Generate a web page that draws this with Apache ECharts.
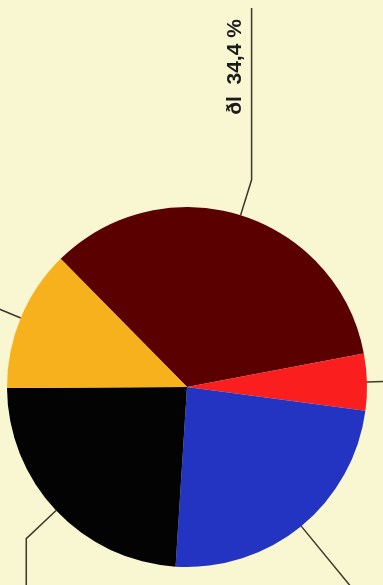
<!DOCTYPE html>
<html>
<head>
<meta charset="utf-8">
<script src="https://cdn.jsdelivr.net/npm/echarts@6/dist/echarts.min.js"></script>
<style>
  html, body { margin: 0; padding: 0; background: #f9f6d2; }
  #chart { width: 383px; height: 585px; }
</style>
</head>
<body>
<div id="chart"></div>
<script>
// Energy shares, clockwise from the top-left
const categories = ['ðl', 'Sonstige', 'Erdgas', 'Kohle', 'Kernenergie'];
const shares = [34.4, 5.1, 23.9, 23.9, 12.7];
const sliceColors = ['#5a0000', '#fa1e1e', '#2434c2', '#030303', '#f6b11c'];

const chart = echarts.init(document.getElementById('chart'), null, { renderer: 'canvas' });

// Guide line routing per slice: radial run, then a straight leg
const guideRuns = [
  { radial: 37, leg: 'up' },
  { radial: 40, leg: 'right' },
  { radial: 80, leg: 'down' },
  { radial: 41, leg: 'down' },
  { radial: 40, leg: 'up' }
];

function fmtPct(v) {
  return v.toFixed(1).replace('.', ',') + ' %';
}

chart.setOption({
  backgroundColor: '#f9f6d2',
  animation: false,
  series: [{
    type: 'pie',
    center: [187, 387],
    radius: 180,
    startAngle: 134.6,
    clockwise: true,
    avoidLabelOverlap: false,
    data: categories.map((name, i) => ({
      name: name,
      value: shares[i],
      itemStyle: { color: sliceColors[i] }
    })),
    label: {
      show: true,
      formatter: p => p.name + '  ' + fmtPct(p.value),
      fontFamily: 'Liberation Sans',
      fontWeight: 'bold',
      fontSize: 21,
      color: '#1c1c1c'
    },
    labelLine: {
      show: true,
      length: 20,
      length2: 10,
      smooth: false,
      lineStyle: { color: '#3a3a28', width: 1.5 }
    },
    labelLayout: function (params) {
      const pts = params.labelLinePoints;
      if (!pts) return {};
      const i = params.dataIndex;
      const p0 = pts[0];
      const vx = pts[1][0] - p0[0];
      const vy = pts[1][1] - p0[1];
      const len = Math.sqrt(vx * vx + vy * vy) || 1;
      const run = guideRuns[i];
      const p1 = [p0[0] + vx / len * run.radial, p0[1] + vy / len * run.radial];
      let p2;
      if (run.leg === 'up') p2 = [p1[0], i === 0 ? 8 : -200];
      else if (run.leg === 'down') p2 = [p1[0], 800];
      else p2 = [600, p1[1]];
      if (i === 0) {
        return {
          x: p1[0] - 16,
          y: 67,
          rotate: 90,
          align: 'center',
          verticalAlign: 'middle',
          labelLinePoints: [p0, p1, p2]
        };
      }
      // remaining labels sit beyond the visible frame
      return {
        x: p2[0] < 0 ? -300 : (p2[0] > 383 ? 700 : p2[0]),
        y: p2[1],
        rotate: 90,
        labelLinePoints: [p0, p1, p2]
      };
    }
  }]
});
</script>
</body>
</html>
